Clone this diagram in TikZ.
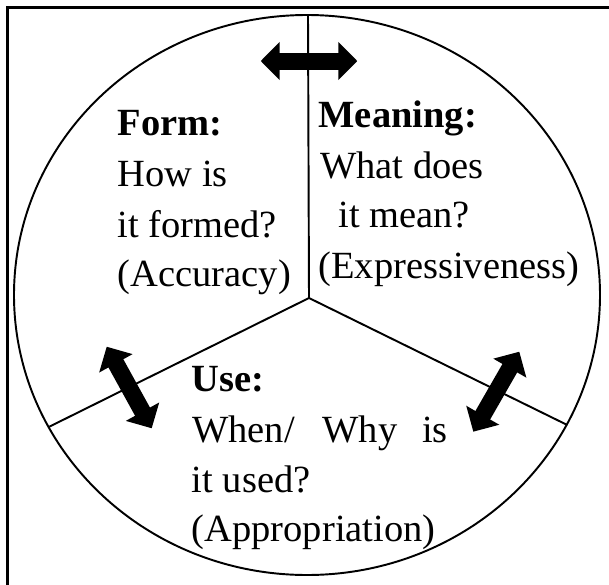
\documentclass[tikz,border=0pt]{standalone}
\usepackage{fontspec}
\setmainfont{Liberation Serif}
\usetikzlibrary{arrows.meta}

\begin{document}
\begin{tikzpicture}[x=0.02cm, y=-0.02cm,
    lbl/.style={anchor=base west, inner sep=0pt, font=\fontsize{21.9}{26}\selectfont},
    dblarrow/.style={line width=0.34cm, {Triangle[length=0.38cm, width=0.74cm]}-{Triangle[length=0.38cm, width=0.74cm]}}]
    % Frame (only top and left edges show)
    \clip (0,0) rectangle (609,585);
    \draw[line width=1.2pt] (7.5,7.5) rectangle (640,620);

    % Circle split into three parts
    \draw[line width=1.1pt] (307,295) ellipse [x radius=293, y radius=280];
    \coordinate (hub) at (309,298);
    \coordinate (top) at (308,15);
    \coordinate (left) at (49.3,426.7);
    \coordinate (right) at (567.3,425);
    \draw[line width=1.1pt] (top) -- (hub) -- (left) (hub) -- (right);

    % Double arrows across the dividing lines
    \coordinate (topA) at (260.7,61);
    \coordinate (topB) at (357.3,61);
    \coordinate (leftA) at (106.7,346.7);
    \coordinate (leftB) at (151.7,428.3);
    \coordinate (rightA) at (519.3,351.7);
    \coordinate (rightB) at (473.3,431.7);
    \draw[dblarrow] (topA) -- (topB);
    \draw[dblarrow] (leftA) -- (leftB);
    \draw[dblarrow] (rightA) -- (rightB);

    % Form
    \node[lbl] (form1) at (117.5,135.4) {\textbf{Form:}};
    \node[lbl] (form2) at (117.5,186.2) {How is};
    \node[lbl] (form3) at (117.5,237) {it formed?};
    \node[lbl] (form4) at (117.5,286) {(Accuracy)};

    % Meaning
    \node[lbl] (mean1) at (318.3,127.9) {\textbf{Meaning:}};
    \node[lbl] (mean2) at (320,178.7) {What does};
    \node[lbl] (mean3) at (338,227.6) {it mean?};
    \node[lbl] (mean4) at (318.3,278.4) {(Expressiveness)};

    % Use
    \node[lbl] (use1) at (191.5,391.3) {\textbf{Use:}};
    \node[lbl] (use2) at (192,442) {When/\hspace{0.72em}Why\hspace{0.64em}is};
    \node[lbl] (use3) at (191.5,492.9) {it used?};
    \node[lbl] (use4) at (191.5,541.8) {(Appropriation)};
\end{tikzpicture}
\end{document}
